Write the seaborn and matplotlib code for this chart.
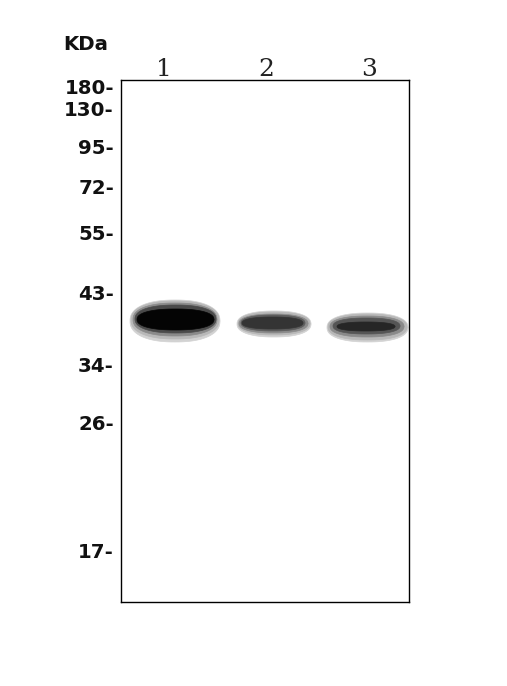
import matplotlib
matplotlib.use("Agg")
import matplotlib.pyplot as plt
import numpy as np
import seaborn as sns

W, H = 507, 686

marker_labels = ["180-", "130-", "95-", "72-", "55-", "43-", "34-", "26-", "17-"]
marker_rows = [86, 109, 146, 187, 233, 293, 365, 422, 550]
lane_labels = ["1", "2", "3"]
lane_cols = [164, 266, 369]

band1_left = [130, 131, 133, 135, 137]
band1_right = [220, 219, 217, 216, 214]
band1_top = [300, 301, 303, 305, 309]
band1_bottom = [342, 339, 336, 333, 330]
band1_greys = ["#d2d2d2", "#b8b8b8", "#8a8a8a", "#4a4a4a", "#040404"]
band2_left = [237, 238, 239, 241, 242]
band2_right = [311, 310, 308, 305, 303]
band2_top = [311, 312, 314, 315, 317]
band2_bottom = [337, 335, 333, 331, 329]
band2_greys = ["#d2d2d2", "#b8b8b8", "#8a8a8a", "#5c5c5c", "#343434"]
band3_left = [327, 328, 330, 333, 337]
band3_right = [408, 407, 404, 400, 395]
band3_top = [313, 314, 316, 318, 322]
band3_bottom = [342, 340, 337, 334, 331]
band3_greys = ["#d2d2d2", "#b8b8b8", "#8a8a8a", "#555555", "#262626"]

sns.set_theme(style="white")
plt.rcParams["font.family"] = ["DejaVu Sans"]
fig = plt.figure(figsize=(W / 100, H / 100), dpi=100, facecolor="white")
x0, x1, y0, y1 = 121.0, 409.0, 80.0, 602.0
ax = fig.add_axes([x0 / W, 1 - y1 / H, (x1 - x0) / W, (y1 - y0) / H])

bands = [
    (band1_left, band1_right, band1_top, band1_bottom, band1_greys),
    (band2_left, band2_right, band2_top, band2_bottom, band2_greys),
    (band3_left, band3_right, band3_top, band3_bottom, band3_greys),
]
angle = np.linspace(0, 2 * np.pi, 121)
power = 2 / 2.3
for lefts, rights, tops, bottoms, greys in bands:
    for l, r, t, b, g in zip(lefts, rights, tops, bottoms, greys):
        xs = (l + r) / 2 + (r - l) / 2 * np.sign(np.cos(angle)) * np.abs(np.cos(angle)) ** power
        ys = (t + b) / 2 + (b - t) / 2 * np.sign(np.sin(angle)) * np.abs(np.sin(angle)) ** power
        sns.lineplot(x=xs, y=ys, ax=ax, color=g, linewidth=0.5,
                     errorbar=None, legend=False, estimator=None, sort=False)
        ax.fill(xs, ys, color=g, linewidth=0)

ax.set_xlim(x0, x1)
ax.set_ylim(y1, y0)
ax.set_xlabel("")
ax.set_ylabel("")
for s in ax.spines.values():
    s.set_visible(True)
    s.set_color("black")
    s.set_linewidth(1.0)

ax.set_yticks(marker_rows)
ax.set_yticklabels(marker_labels, fontsize=14.2, fontweight="bold", color="#111111")
ax.tick_params(axis="y", length=0, pad=5, left=True)
ax.set_xticks(lane_cols)
ax.set_xticklabels(lane_labels, fontsize=18, family="DejaVu Serif", color="#222222")
ax.tick_params(axis="x", length=0, pad=-1, top=True, labeltop=True, bottom=False, labelbottom=False)

ax.text(86, 44, "KDa", fontsize=14.2, fontweight="bold", color="#111111",
        ha="center", va="center", clip_on=False)

fig.savefig("out.png", dpi=100, facecolor="white")
